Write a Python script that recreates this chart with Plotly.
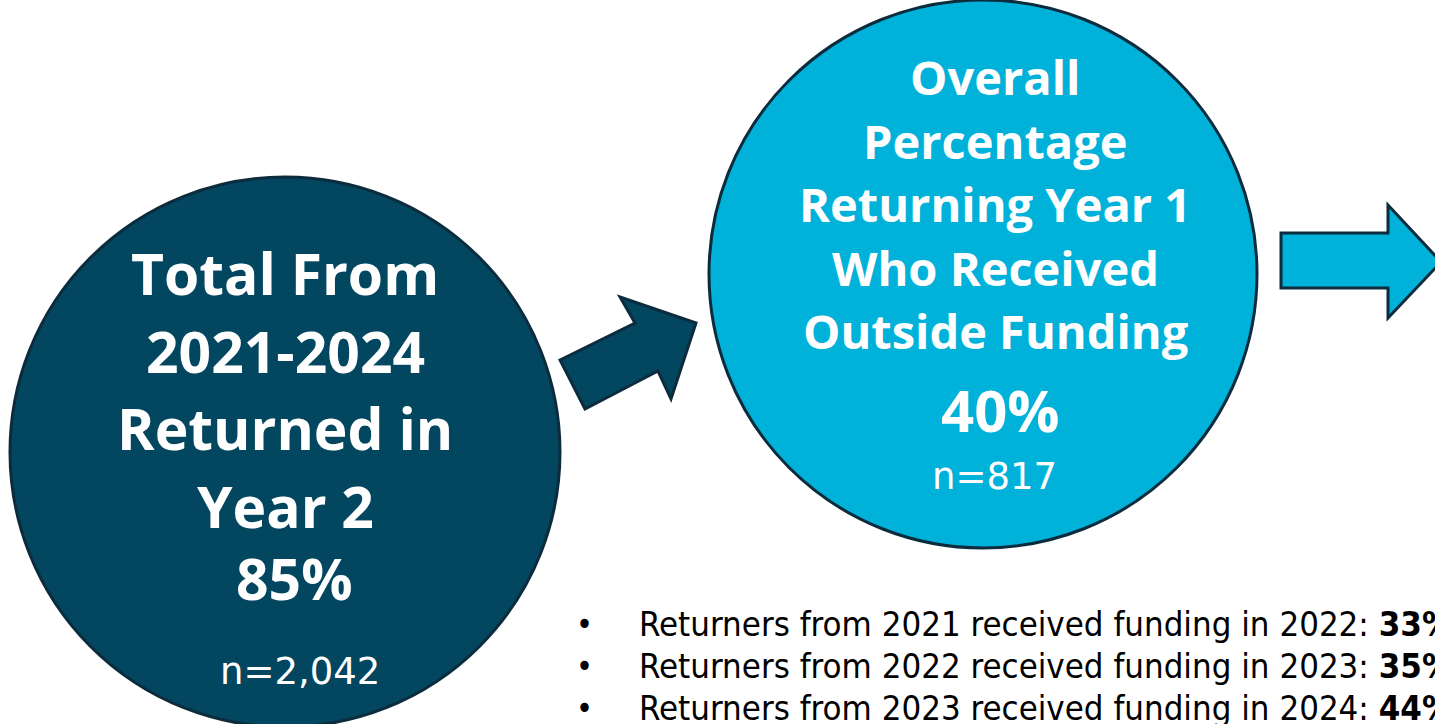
import plotly.graph_objects as go

# figures shown in the graphic
total_label = ["Total From", "2021-2024", "Returned in", "Year 2"]
total_pct = 85
total_n = 2042
outside_label = ["Overall", "Percentage", "Returning Year 1", "Who Received", "Outside Funding"]
outside_pct = 40
outside_n = 817
years_from = [2021, 2022, 2023]
years_to = [2022, 2023, 2024]
funding_pct = [33, 35, 44]

W, H = 1435, 724
DARK = "#02465F"
LIGHT = "#00B1D9"
EDGE = "#0C2C3E"
BOLD_FONT = "Open Sans"
NUM_FONT = "DejaVu Sans"
LIST_FONT = "DejaVu Sans Condensed"

fig = go.Figure()

def circle(cx, cy, r, fill):
  fig.add_shape(type="circle", x0=cx - r, x1=cx + r, y0=cy - r, y1=cy + r,
                fillcolor=fill, line=dict(color=EDGE, width=3), layer="below")

def poly(points, fill):
  path = "M " + " L ".join(f"{x},{y}" for x, y in points) + " Z"
  fig.add_shape(type="path", path=path, fillcolor=fill,
                line=dict(color=EDGE, width=3), layer="below")

circle(285, 452, 275, DARK)
circle(983, 274, 274, LIGHT)

poly([(560, 360), (635, 323), (620, 297), (696, 323), (671, 399), (658, 371), (585, 409)], DARK)
poly([(1281, 233), (1388, 233), (1388, 205), (1441, 262), (1388, 318), (1388, 288), (1281, 288)], LIGHT)

def txt(x, y, s, size, bold=False, color="white", anchor="center", family=BOLD_FONT):
  fig.add_annotation(x=x, y=y, text=f"<b>{s}</b>" if bold else s, showarrow=False,
                     xanchor=anchor, yanchor="middle", align=anchor,
                     font=dict(size=size, color=color, family=family))

# left circle
for i, line in enumerate(total_label):
  txt(285, 273 + i * 77.5, line, 57, bold=True)
txt(294, 578, f"{total_pct}%", 57, bold=True)
txt(300, 671, f"n={total_n:,}", 37, family=NUM_FONT)

# right circle
for i, line in enumerate(outside_label):
  txt(995, 77 + i * 63.5, line, 47, bold=True)
txt(1000, 409, f"{outside_pct}%", 58, bold=True)
txt(994, 476, f"n={outside_n}", 37, family=NUM_FONT)

# bullet list
for i, (a, b, p) in enumerate(zip(years_from, years_to, funding_pct)):
  y = 624 + i * 42
  txt(584, y, "•", 32, color="black", family=LIST_FONT)
  txt(637, y, f"Returners from {a} received funding in {b}: <b>{p}%</b>", 34.5,
      color="black", anchor="left", family=LIST_FONT)

fig.update_xaxes(range=[0, W], visible=False, fixedrange=True)
fig.update_yaxes(range=[H, 0], visible=False, fixedrange=True)
fig.update_layout(width=W, height=H, margin=dict(l=0, r=0, t=0, b=0),
                  plot_bgcolor="white", paper_bgcolor="white", showlegend=False)

# drop the default page margin so the figure sits at the window corner
fig.write_html("out.html", config={"displayModeBar": False},
               post_script="document.body.style.margin='0';document.body.style.overflow='hidden';")
